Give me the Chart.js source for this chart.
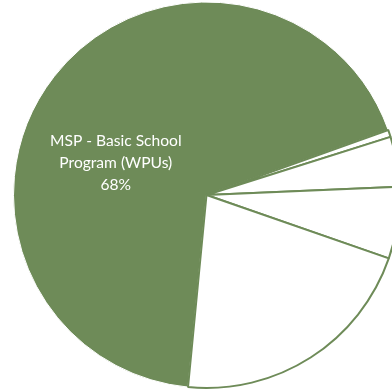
<!DOCTYPE html>
<html lang="en">
<head>
  <meta charset="UTF-8">
  <title>School Funding Breakdown</title>
  <script src="https://cdn.jsdelivr.net/npm/chart.js"></script>
  <style>
    html, body {
      margin: 0;
      padding: 0;
      overflow: hidden;
      background: #fff;
    }

    .chart-box {
      position: absolute;
      left: 0;
      top: 0;
      width: 413px;
      height: 390px;
    }
  </style>
</head>
<body>
  <div class="chart-box">
    <canvas id="fundingChart" width="413" height="390"></canvas>
  </div>

  <script>
    // Share of funding by program (percent)
    const programs = ['MSP - Basic School Program (WPUs)', 'Other A', 'Other B', 'Other C', 'Other D'];
    const shares = [68, 0.6, 4.2, 6.0, 21.2];
    const shownLabels = ['MSP - Basic School\nProgram (WPUs)\n68%', '', '', '', ''];

    const green = '#6e8b58';

    // Writes the data label of the big slice, left of the centre
    const sliceLabels = {
      id: 'sliceLabels',
      afterDatasetsDraw(chart) {
        const ctx = chart.ctx;
        const arcs = chart.getDatasetMeta(0).data;
        ctx.save();
        ctx.fillStyle = '#ffffff';
        ctx.font = '15.6px Lato, "Open Sans", sans-serif';
        ctx.textAlign = 'center';
        ctx.textBaseline = 'middle';
        arcs.forEach((arc, i) => {
          if (!shownLabels[i]) return;
          const r = arc.outerRadius;
          const x = arc.x - 0.47 * r;
          const y = arc.y - 0.165 * r;
          const lines = shownLabels[i].split('\n');
          const lh = 21.7;
          lines.forEach((line, k) => {
            ctx.fillText(line, x, y + (k - (lines.length - 1) / 2) * lh);
          });
        });
        ctx.restore();
      }
    };

    new Chart(document.getElementById('fundingChart'), {
      type: 'pie',
      data: {
        labels: programs,
        datasets: [{
          data: shares,
          backgroundColor: [green, '#fff', '#fff', '#fff', '#fff'],
          borderColor: ['#fff', green, green, green, green],
          borderWidth: [1, 2, 2, 2, 2]
        }]
      },
      options: {
        responsive: false,
        devicePixelRatio: 1,
        animation: false,
        rotation: 185.5,
        radius: 193,
        layout: { padding: 0 },
        plugins: {
          legend: { display: false },
          tooltip: { enabled: false }
        }
      },
      plugins: [sliceLabels]
    });
  </script>
</body>
</html>
